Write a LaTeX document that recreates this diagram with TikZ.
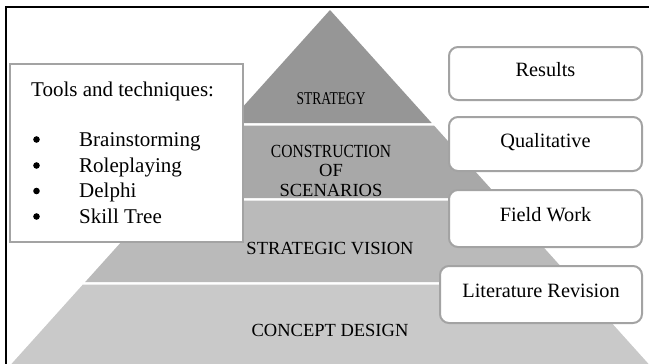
\documentclass[tikz,border=0pt]{standalone}
\usepackage{fontspec}
\setmainfont{Liberation Serif}
\definecolor{tierA}{gray}{0.59}
\definecolor{tierB}{gray}{0.66}
\definecolor{tierC}{gray}{0.73}
\definecolor{tierD}{gray}{0.79}
\definecolor{boxline}{gray}{0.64}
\tikzset{
  toolbox/.style={draw=boxline, line width=2.5pt, fill=white, inner sep=0pt},
  resbox/.style={draw=boxline, line width=2pt, fill=white, rounded corners=9pt, inner sep=0pt,
    minimum width=193pt, text height=0.66em, text depth=0pt, font=\fontsize{20.3}{24}\selectfont},
  plain/.style={inner sep=0pt, font=\fontsize{21}{25}\selectfont},
  bulletdot/.style={circle, fill=black, inner sep=0pt, minimum size=6.6pt},
  tiertext/.style={inner sep=0pt, align=center, font=\fontsize{18.5}{19.5}\selectfont},
}
\begin{document}
\begin{tikzpicture}[x=1pt,y=-1pt]
\useasboundingbox (0,0) rectangle (649,364);
% frame
\draw[line width=2pt] (6,370) -- (6,7.3) -- (660,7.3);
% pyramid tiers
\fill[tierA] (330,10) -- (431.7,123) -- (228.3,123) -- cycle;
\fill[tierB] (226,125.5) -- (434,125.5) -- (499.2,198) -- (160.8,198) -- cycle;
\fill[tierC] (158.6,200.5) -- (501.5,200.5) -- (574.8,282) -- (85.2,282) -- cycle;
\fill[tierD] (82.9,284.5) -- (577.1,284.5) -- (654,370) -- (6,370) -- cycle;
% tier labels
\node[tiertext, font=\fontsize{18}{19}\selectfont] (strat) at (331,99) {\scalebox{0.75}[1]{STRATEGY}};
\node[tiertext] (constr) at (331,170.5) {\scalebox{0.84}[1]{CONSTRUCTION}\\OF\\SCENARIOS};
\node[tiertext] (vision) at (330,249) {STRATEGIC VISION};
\node[tiertext] (concept) at (330,330) {CONCEPT DESIGN};
% tools box
\node[toolbox, minimum width=233pt, minimum height=178pt] (tools) at (126.5,153) {};
\node[plain, anchor=base west] (title) at (31,96) {Tools and techniques:};
\node[bulletdot] (b1) at (36.5,139.5) {};
\node[bulletdot] (b2) at (36.5,165.5) {};
\node[bulletdot] (b3) at (36.5,191) {};
\node[bulletdot] (b4) at (36.5,216.5) {};
\node[plain, anchor=base west] (t1) at (79,146) {Brainstorming};
\node[plain, anchor=base west] (t2) at (79,172) {Roleplaying};
\node[plain, anchor=base west] (t3) at (79,197.5) {Delphi};
\node[plain, anchor=base west] (t4) at (79,223) {Skill Tree};
% result boxes
\node[resbox, minimum height=53pt] (results) at (545.5,73.5) {Results};
\node[resbox, minimum height=54pt] (qual) at (545.5,144) {Qualitative};
\node[resbox, minimum height=57pt] (field) at (545.5,218.5) {Field Work};
\node[resbox, minimum height=57pt, minimum width=202pt] (lit) at (541,294.5) {Literature Revision};
\end{tikzpicture}
\end{document}
